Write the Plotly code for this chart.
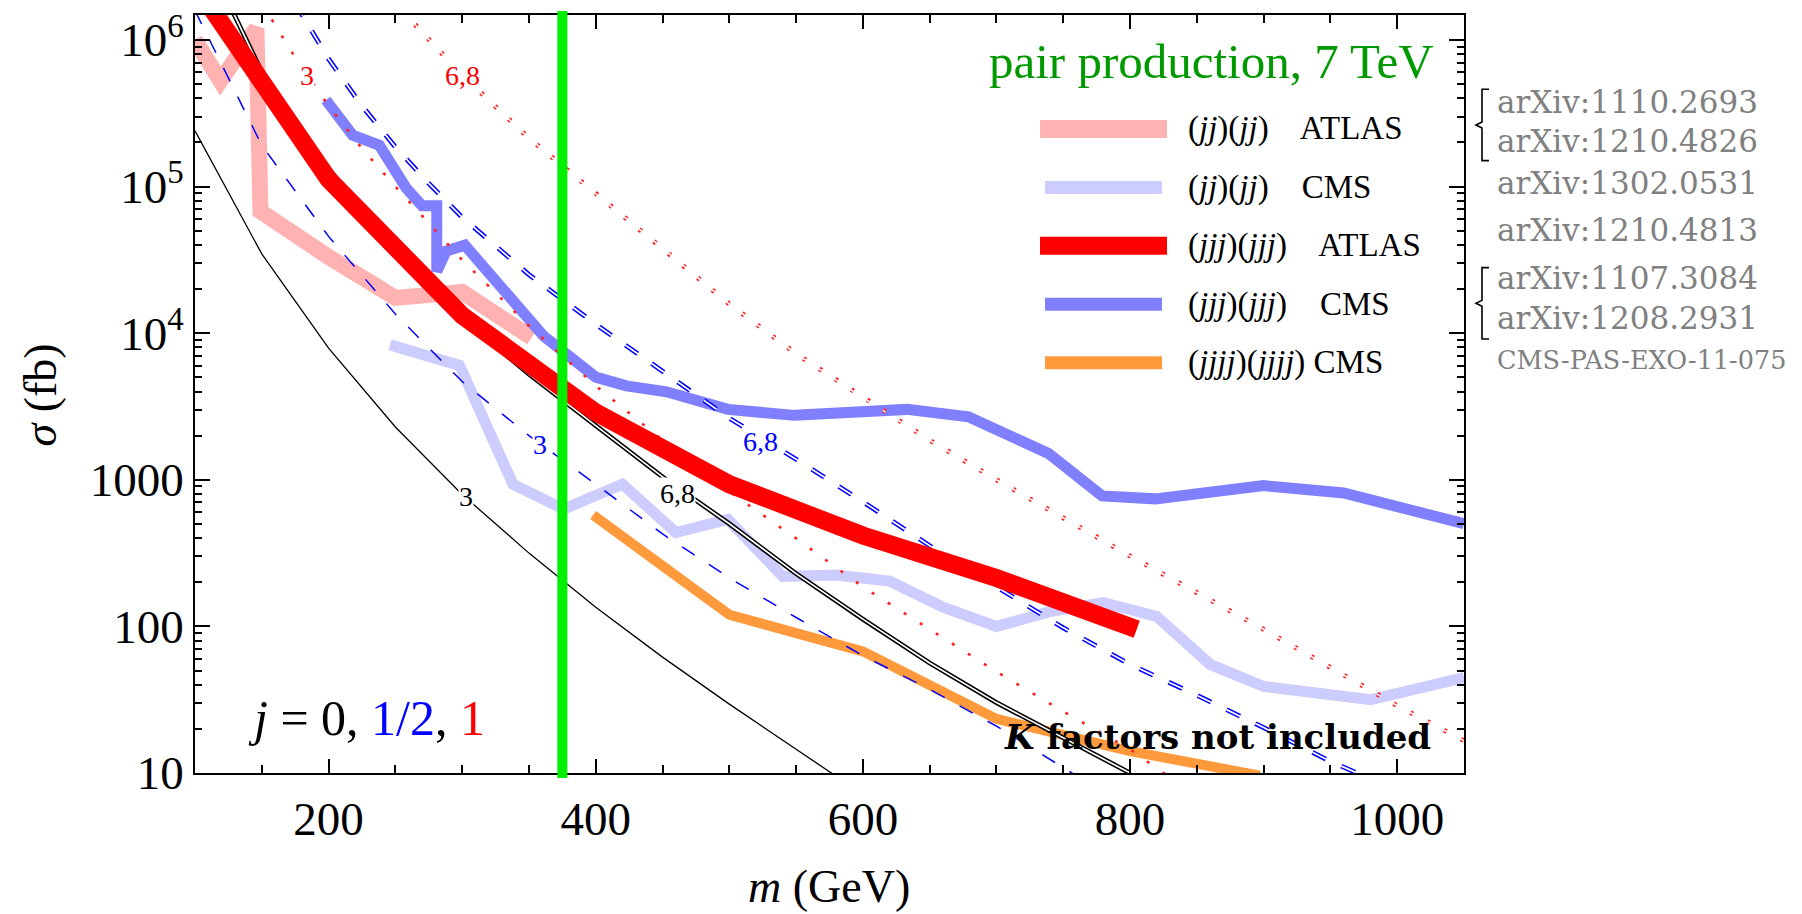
import math
import plotly.graph_objects as go

# ---------------- data ----------------
# axis extents
m_range = [100, 1050]
logsig_range = [1, 6.17]

# pair-production cross sections (fb) vs mass (GeV)
# j = 0 : colour triplet and sextet/octet
m_s3 = [100, 150, 200, 250, 300, 350, 400, 450, 500, 550, 580]
sig_s3 = [240000, 34700, 7900, 2290, 794, 316, 135, 61.7, 29.5, 14.5, 9.5]
m_s68 = [120, 150, 200, 250, 300, 350, 400, 450, 500, 550, 600, 650, 700, 750, 800]
sig_s68 = [2240000, 603000, 132000, 37200, 12600, 5250, 2340, 1047, 501, 229, 112,
           56.2, 30.2, 17.4, 10.0]
# j = 1/2
m_f3 = [100, 150, 200, 250, 300, 350, 400, 450, 500, 550, 600, 650, 700, 760]
sig_f3 = [1585000, 191000, 45700, 13500, 4680, 2000, 933, 427, 214, 115, 63.1,
          37.2, 20.9, 9.55]
m_f68 = [175, 200, 225, 250, 275, 300, 350, 400, 450, 500, 550, 600, 650, 700, 750,
         800, 850, 900, 950, 975]
sig_f68 = [1778000, 741000, 355000, 186000, 105000, 61700, 25100, 11500, 5500, 2630,
           1380, 708, 355, 186, 97.7, 55.0, 33.9, 20.4, 12.0, 9.55]
# j = 1
m_v3 = [150, 175, 200, 225, 250, 275, 300, 350, 400, 450, 500, 550, 600, 650, 700,
        750, 800, 830]
sig_v3 = [1778000, 759000, 355000, 182000, 100000, 56200, 31600, 11200, 4370, 1860,
          832, 398, 186, 95.5, 49.0, 26.3, 14.5, 9.3]
m_v68 = [255, 300, 350, 400, 450, 500, 550, 600, 650, 700, 750, 800, 850, 900, 950,
         1000, 1050]
sig_v68 = [1585000, 575000, 214000, 89100, 38000, 15800, 7240, 3630, 1860, 1000, 550,
           302, 170, 95.5, 52.5, 28.8, 16.6]

# experimental 95% CL limits (fb)
m_jj_atlas = [100, 119, 146, 149, 200, 250, 300, 352]
sig_jj_atlas = [1000000, 525000, 1200000, 67600, 33100, 17400, 19100, 9330]

m_jj_cms = [246, 298, 338, 376, 420, 460, 499, 540, 580, 620, 660, 700, 740, 780, 820,
            860, 900, 980, 1050]
sig_jj_cms = [8320, 6030, 933, 631, 933, 437, 537, 219, 224, 204, 135, 100, 126, 145,
              117, 55.0, 38.9, 31.6, 44.7]

m_jjj_atlas = [112, 200, 300, 400, 500, 600, 700, 805]
sig_jjj_atlas = [1660000, 112000, 13200, 2880, 933, 417, 214, 95.5]

m_jjj_cms = [198, 218, 238, 258, 270, 281, 281, 288, 302, 361, 400, 423, 453, 499, 549,
             633, 679, 739, 779, 819, 900, 960, 1050]
sig_jjj_cms = [389000, 224000, 191000, 97700, 74100, 74100, 26300, 36300, 39800, 9550,
               5010, 4370, 3980, 3020, 2750, 3020, 2690, 1510, 776, 741, 912, 813, 501]

m_jjjj_cms = [398, 500, 600, 700, 800, 897]
sig_jjjj_cms = [575, 120, 67.6, 23.4, 14.1, 9.6]

m_marker = 375  # vertical reference mass

# curve labels: (text, mass, sigma, colour)
curve_labels = [
    ("3", 184, 5.7e5, "#ff0000"), ("6,8", 300, 5.7e5, "#ff0000"),
    ("3", 358, 1740, "#0000ff"), ("6,8", 523, 1820, "#0000ff"),
    ("3", 303, 770, "black"), ("6,8", 461, 810, "black"),
]

GAP = "\u00a0\u00a0\u00a0 "
legend_entries = [
    ("(<i>jj</i>)(<i>jj</i>)" + GAP + "ATLAS", "#ffb2b2", 18),
    ("(<i>jj</i>)(<i>jj</i>)" + GAP + "CMS", "#ccccff", 13),
    ("(<i>jjj</i>)(<i>jjj</i>)" + GAP + "ATLAS", "#ff0000", 18),
    ("(<i>jjj</i>)(<i>jjj</i>)" + GAP + "CMS", "#8080ff", 13),
    ("(<i>jjjj</i>)(<i>jjjj</i>) CMS", "#ff9a3c", 13),
]
references = ["arXiv:1110.2693", "arXiv:1210.4826", "arXiv:1302.0531",
              "arXiv:1210.4813", "arXiv:1107.3084", "arXiv:1208.2931",
              "CMS-PAS-EXO-11-075"]

# ---------------- layout geometry ----------------
W, H = 1802, 914
ML, MR, MT, MB = 195, 338, 8, 141
PW, PH = W - ML - MR, H - MT - MB


def px(xp):
    return (xp - ML) / PW


def py(yp):
    return (H - MB - yp) / PH


SERIF = "Liberation Serif"
DASHED = "15px,17px"
DOTTED = "3px,16px"
fig = go.Figure()


def add_line(x, y, color, width, dash="solid"):
    fig.add_trace(go.Scatter(x=x, y=y, mode="lines", hoverinfo="skip", showlegend=False,
                             line=dict(color=color, width=width, dash=dash)))


def add_double(x, y, color, dash="solid"):
    add_line(x, y, color, 4.8, dash)
    add_line(x, y, "white", 1.7, dash)


# limit bands (pale ones underneath)
add_line(m_jj_atlas, sig_jj_atlas, "#ffb2b2", 16)
add_line(m_jj_cms, sig_jj_cms, "#ccccff", 11)
add_line(m_jjj_cms, sig_jjj_cms, "#8080ff", 11)
add_line(m_jjjj_cms, sig_jjjj_cms, "#ff9a3c", 10)

# theory curves
add_line(m_s3, sig_s3, "black", 1.3)
add_double(m_s68, sig_s68, "black")
add_line(m_f3, sig_f3, "#0000ff", 1.5, DASHED)
add_double(m_f68, sig_f68, "#0000ff", DASHED)
add_line(m_v3, sig_v3, "#ff2020", 2.6, DOTTED)
add_double(m_v68, sig_v68, "#ff2020", DOTTED)

# ATLAS three-jet limit on top
add_line(m_jjj_atlas, sig_jjj_atlas, "#ff0000", 18)

shapes = []
annotations = []

# vertical marker
shapes.append(dict(type="line", xref="x", yref="paper", x0=m_marker, x1=m_marker,
                   y0=py(778), y1=py(4), line=dict(color="#00f000", width=10),
                   layer="above"))

# curve labels
for txt, m, s, col in curve_labels:
    annotations.append(dict(x=m, y=math.log10(s), xref="x", yref="y", text=txt,
                            showarrow=False, font=dict(family=SERIF, size=28, color=col),
                            bgcolor="white", borderpad=0))

# legend
legend_y = [123, 182, 241, 300, 359]
for (txt, col, lw), yy in zip(legend_entries, legend_y):
    x0, x1 = (1040, 1167) if lw > 15 else (1045, 1162)
    shapes.append(dict(type="line", xref="paper", yref="paper", x0=px(x0), x1=px(x1),
                       y0=py(yy), y1=py(yy), line=dict(color=col, width=lw)))
    annotations.append(dict(x=px(1186), y=py(yy), xref="paper", yref="paper", text=txt,
                            xanchor="left", yanchor="middle", showarrow=False,
                            font=dict(family=SERIF, size=33, color="black")))

# title
annotations.append(dict(x=px(1436), y=py(55), xref="paper", yref="paper",
                        text="pair production, 7 TeV", xanchor="right", yanchor="middle",
                        showarrow=False, font=dict(family=SERIF, size=49, color="#009a00")))

# spin legend
annotations.append(dict(x=px(246), y=py(717), xref="paper", yref="paper",
                        text="<i>j</i> = 0, <span style='color:#0000ff'>1/2</span>, "
                             "<span style='color:#ff0000'>1</span>",
                        xanchor="left", yanchor="middle", showarrow=False,
                        font=dict(family=SERIF, size=50, color="black")))

# K-factor note
annotations.append(dict(x=px(1002), y=py(737), xref="paper", yref="paper",
                        text="<b><i>K</i> factors not included</b>", xanchor="left",
                        yanchor="middle", showarrow=False,
                        font=dict(family="DejaVu Serif", size=34, color="black")))

# axis titles
annotations.append(dict(x=px(40), y=py(392), xref="paper", yref="paper",
                        text="<i>σ</i> (fb)", textangle=-90, showarrow=False,
                        xanchor="center", yanchor="middle",
                        font=dict(family=SERIF, size=46, color="black")))
annotations.append(dict(x=px(829), y=py(888), xref="paper", yref="paper",
                        text="<i>m</i> (GeV)", showarrow=False,
                        xanchor="center", yanchor="middle",
                        font=dict(family=SERIF, size=46, color="black")))

# references
ref_y = [96, 135, 178, 225, 273, 314, 356]
for txt, yy in zip(references, ref_y):
    small = txt.startswith("CMS")
    annotations.append(dict(x=px(1495), y=py(yy), xref="paper", yref="paper", text=txt,
                            xanchor="left", yanchor="middle", showarrow=False,
                            font=dict(family="DejaVu Serif", size=25.5 if small else 31,
                                      color="#808080")))


def brace(ytop, ybot):
    ymid = 0.5 * (ytop + ybot)
    pts = [(1489, ytop), (1482, ytop), (1482, ymid - 3), (1476, ymid), (1482, ymid + 3),
           (1482, ybot), (1489, ybot)]
    return "M " + " L ".join(f"{px(a):.5f},{py(b):.5f}" for a, b in pts)


for yt, yb in [(83, 155), (263, 335)]:
    shapes.append(dict(type="path", xref="paper", yref="paper", path=brace(yt, yb),
                       line=dict(color="black", width=1.6)))

# minor ticks on the log axis
minor_y = [k * 10 ** d for d in range(1, 7) for k in range(2, 10)]

fig.update_layout(
    width=W, height=H, margin=dict(l=ML, r=MR, t=MT, b=MB, pad=0),
    paper_bgcolor="white", plot_bgcolor="white", showlegend=False,
    shapes=shapes, annotations=annotations,
    xaxis=dict(range=m_range, showgrid=False, zeroline=False, showline=True,
               linecolor="black", linewidth=1.6, mirror="allticks",
               ticks="inside", ticklen=14, tickwidth=1.5, tickcolor="black",
               tickmode="array", tickvals=[200, 400, 600, 800, 1000],
               tickfont=dict(family=SERIF, size=47, color="black"),
               ticklabelstandoff=4,
               minor=dict(ticks="inside", ticklen=8, tickwidth=1.5, tickcolor="black",
                          tickmode="linear", tick0=0, dtick=50, showgrid=False)),
    yaxis=dict(type="log", range=logsig_range, showgrid=False, zeroline=False,
               showline=True, linecolor="black", linewidth=1.6, mirror="allticks",
               ticks="inside", ticklen=15, tickwidth=1.5, tickcolor="black",
               tickmode="array", tickvals=[10, 100, 1000, 1e4, 1e5, 1e6],
               ticktext=["10", "100", "1000", "10<sup>4</sup>", "10<sup>5</sup>",
                         "10<sup>6</sup>"],
               tickfont=dict(family=SERIF, size=47, color="black"),
               ticklabelstandoff=0,
               minor=dict(ticks="inside", ticklen=7, tickwidth=1.5, tickcolor="black",
                          tickmode="array", tickvals=minor_y, showgrid=False)),
)

fig.write_html("out.html")
